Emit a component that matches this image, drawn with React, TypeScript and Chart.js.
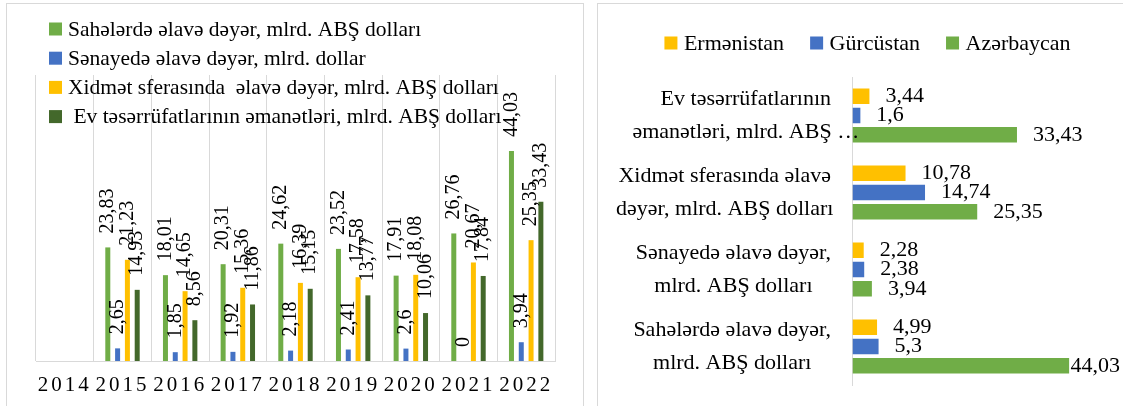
import React, { useEffect, useRef } from "react";
import { Chart, registerables } from "chart.js";

Chart.register(...registerables);

// ---------- Left chart data ----------
const years = ["2014", "2015", "2016", "2017", "2018", "2019", "2020", "2021", "2022"];
const leftSeriesNames = [
  "Sahələrdə əlavə dəyər, mlrd. ABŞ dolları",
  "Sənayedə əlavə dəyər, mlrd. dollar",
  "Xidmət sferasında  əlavə dəyər, mlrd. ABŞ dolları",
  " Ev təsərrüfatlarının əmanətləri, mlrd. ABŞ dolları",
];
const sahelerde = [null, 23.83, 18.01, 20.31, 24.62, 23.52, 17.91, 26.76, 44.03];
const senayede = [null, 2.65, 1.85, 1.92, 2.18, 2.41, 2.6, 0, 3.94];
const xidmet = [null, 21.23, 14.65, 15.36, 16.39, 17.58, 18.08, 20.67, 25.35];
const evEmanet = [null, 14.93, 8.56, 11.86, 15.15, 13.77, 10.06, 17.84, 33.43];

// ---------- Right chart data ----------
const sectorLabels = [
  ["Ev təsərrüfatlarının", "əmanətləri, mlrd. ABŞ …"],
  ["Xidmət sferasında əlavə", "dəyər, mlrd. ABŞ dolları"],
  ["Sənayedə əlavə dəyər,", "mlrd. ABŞ dolları"],
  ["Sahələrdə əlavə dəyər,", "mlrd. ABŞ dolları"],
];
const countryNames = ["Ermənistan", "Gürcüstan", "Azərbaycan"];
const ermenistan = [3.44, 10.78, 2.28, 4.99];
const gurcustan = [1.6, 14.74, 2.38, 5.3];
const azerbaycan = [33.43, 25.35, 3.94, 44.03];

const GREEN = "#70AD47";
const BLUE = "#4472C4";
const YELLOW = "#FFC000";
const DARK = "#43682B";
const GRID = "#D9D9D9";
const FONT = '"Liberation Serif", "Times New Roman", serif';

const fmt = (v: number) => String(v).replace(".", ",");

export default function App() {
  const leftRef = useRef<HTMLCanvasElement>(null);
  const rightRef = useRef<HTMLCanvasElement>(null);

  useEffect(() => {
    const leftColors = [GREEN, BLUE, YELLOW, DARK];
    const leftData = [sahelerde, senayede, xidmet, evEmanet];

    const spacingPlugin = {
      id: "tickSpacing",
      beforeDraw(chart: any) {
        chart.ctx.letterSpacing = "3px";
      },
      beforeDatasetsDraw(chart: any) {
        chart.ctx.letterSpacing = "0px";
      },
    };

    const leftLabelsPlugin = {
      id: "leftLabels",
      afterDatasetsDraw(chart: any) {
        const ctx = chart.ctx;
        ctx.save();
        ctx.fillStyle = "#000";
        ctx.font = `20px ${FONT}`;
        ctx.textAlign = "left";
        ctx.textBaseline = "middle";
        chart.data.datasets.forEach((ds: any, di: number) => {
          const meta = chart.getDatasetMeta(di);
          meta.data.forEach((el: any, i: number) => {
            const v = ds.data[i];
            if (v === null || v === undefined) return;
            ctx.save();
            ctx.translate(el.x, el.y - 14);
            ctx.rotate(-Math.PI / 2);
            ctx.fillText(fmt(v), 0, 0);
            ctx.restore();
          });
        });
        ctx.restore();
      },
      afterDraw(chart: any) {
        const ctx = chart.ctx;
        ctx.save();
        ctx.font = `21.5px ${FONT}`;
        ctx.textAlign = "left";
        ctx.textBaseline = "middle";
        leftSeriesNames.forEach((name, i) => {
          const cy = 29 + i * 29.2;
          ctx.fillStyle = leftColors[i];
          ctx.fillRect(49, cy - 6.5, 13, 13);
          ctx.fillStyle = "#000";
          ctx.fillText(name, 68, cy + 1);
        });
        ctx.restore();
      },
    };

    const left = new Chart(leftRef.current!, {
      type: "bar",
      data: {
        labels: years,
        datasets: leftData.map((d, i) => ({
          label: leftSeriesNames[i],
          data: d,
          backgroundColor: leftColors[i],
          categoryPercentage: 0.68,
          barPercentage: 0.51,
        })),
      },
      options: {
        responsive: false,
        animation: false,
        layout: { padding: { top: 75, left: 36, right: 35, bottom: 0 } },
        plugins: { legend: { display: false }, tooltip: { enabled: false } },
        scales: {
          x: {
            grid: { color: GRID, drawTicks: false, offset: true, lineWidth: 1 },
            border: { color: GRID },
            ticks: {
              font: { family: FONT, size: 21 },
              color: "#000",
              padding: 12,
              maxRotation: 0,
              autoSkip: false,
            },
            afterFit: (s: any) => {
              s.height = 45;
            },
          },
          y: { display: false, min: 0, max: 60 },
        },
      } as any,
      plugins: [spacingPlugin, leftLabelsPlugin],
    });

    // ---------- Right chart ----------
    const rightColors = [YELLOW, BLUE, GREEN];
    const rightData = [ermenistan, gurcustan, azerbaycan];

    const rightPlugin = {
      id: "rightDecor",
      afterDatasetsDraw(chart: any) {
        const ctx = chart.ctx;
        const W = chart.width;
        ctx.save();
        ctx.fillStyle = "#000";
        ctx.font = `22px ${FONT}`;
        ctx.textAlign = "left";
        ctx.textBaseline = "middle";
        chart.data.datasets.forEach((ds: any, di: number) => {
          const meta = chart.getDatasetMeta(di);
          meta.data.forEach((el: any, i: number) => {
            const t = fmt(ds.data[i]);
            const tw = ctx.measureText(t).width;
            const x = Math.min(el.x + 16, W - tw - 3);
            ctx.fillText(t, x, el.y);
          });
        });
        // category labels
        ctx.textAlign = "center";
        const yScale = chart.scales.y;
        sectorLabels.forEach((lines, i) => {
          const cy = yScale.getPixelForTick(i);
          const w1 = ctx.measureText(lines[0]).width;
          const cx = 241 - w1 / 2;
          const lh = 33;
          lines.forEach((ln, j) => {
            ctx.fillText(ln, cx, cy + (j - (lines.length - 1) / 2) * lh);
          });
        });
        // legend
        const box = 13;
        const gap = 6.5;
        const itemGap = 26;
        const widths = countryNames.map((n) => ctx.measureText(n).width);
        const total =
          widths.reduce((a, b) => a + b, 0) + countryNames.length * (box + gap) + itemGap * (countryNames.length - 1);
        let x = 277.5 - total / 2;
        const cy = 43;
        ctx.textAlign = "left";
        countryNames.forEach((n, i) => {
          ctx.fillStyle = rightColors[i];
          ctx.fillRect(x, cy - box / 2, box, box);
          ctx.fillStyle = "#000";
          ctx.fillText(n, x + box + gap, cy + 1);
          x += box + gap + widths[i] + itemGap;
        });
        ctx.restore();
      },
    };

    const right = new Chart(rightRef.current!, {
      type: "bar",
      data: {
        labels: sectorLabels.map((l) => l.join(" ")),
        datasets: rightData.map((d, i) => ({
          label: countryNames[i],
          data: d,
          backgroundColor: rightColors[i],
          categoryPercentage: 0.75,
          barPercentage: 0.8,
        })),
      },
      options: {
        indexAxis: "y",
        responsive: false,
        animation: false,
        layout: { padding: { top: 77, right: 24.5, bottom: 21, left: 0 } },
        plugins: { legend: { display: false }, tooltip: { enabled: false } },
        scales: {
          x: { display: false, min: 0, max: 50 },
          y: {
            grid: { display: false, drawTicks: false },
            border: { display: true, color: GRID, width: 1 },
            ticks: { display: false },
            afterFit: (s: any) => {
              s.width = 262.5;
            },
          },
        },
      } as any,
      plugins: [rightPlugin],
    });

    return () => {
      left.destroy();
      right.destroy();
    };
  }, []);

  return (
    <div
      style={{
        position: "absolute",
        left: 0,
        top: 0,
        width: 1123,
        height: 406,
        overflow: "hidden",
        background: "#fff",
      }}
    >
      <div
        style={{
          position: "absolute",
          left: 6,
          top: 3,
          width: 578,
          height: 500,
          border: `1px solid ${GRID}`,
          boxSizing: "border-box",
        }}
      />
      <div
        style={{
          position: "absolute",
          left: 597,
          top: 3,
          width: 600,
          height: 500,
          border: `1px solid ${GRID}`,
          boxSizing: "border-box",
        }}
      />
      <canvas
        ref={leftRef}
        width={590}
        height={406}
        style={{ position: "absolute", left: 0, top: 0, width: 590, height: 406 }}
      />
      <canvas
        ref={rightRef}
        width={533}
        height={406}
        style={{ position: "absolute", left: 590, top: 0, width: 533, height: 406 }}
      />
    </div>
  );
}
